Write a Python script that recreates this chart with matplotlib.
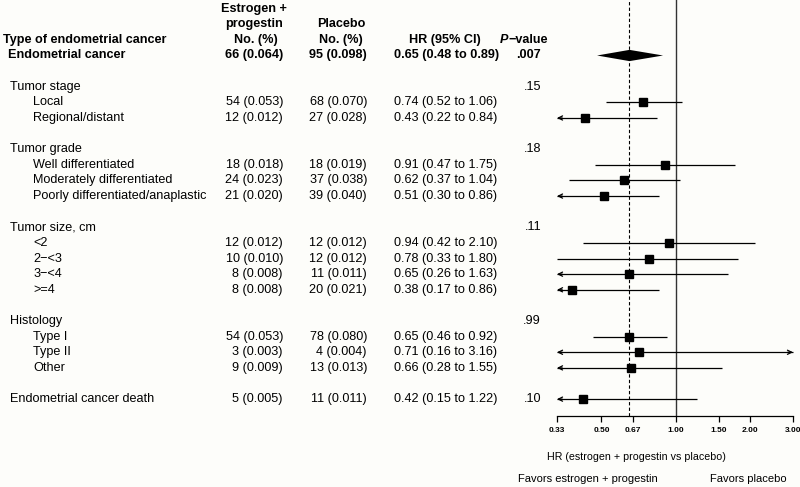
import matplotlib
matplotlib.use("Agg")
import matplotlib.pyplot as plt
import matplotlib.transforms as mtransforms
from matplotlib.ticker import NullLocator

plt.rcParams['font.family'] = ['Liberation Sans', 'DejaVu Sans']

# ---------------- data ----------------
row_labels = ["Endometrial cancer",
              "Tumor stage", "Local", "Regional/distant",
              "Tumor grade", "Well differentiated", "Moderately differentiated",
              "Poorly differentiated/anaplastic",
              "Tumor size, cm", "<2", "2\u2212<3", "3\u2212<4", ">=4",
              "Histology", "Type I", "Type II", "Other",
              "Endometrial cancer death"]
row_pos = [1, 3, 4, 5, 7, 8, 9, 10, 12, 13, 14, 15, 16, 18, 19, 20, 21, 23]
row_kind = ["total", "group", "sub", "sub", "group", "sub", "sub", "sub",
            "group", "sub", "sub", "sub", "sub", "group", "sub", "sub", "sub", "single"]

ep_n =   [66, None, 54, 12, None, 18, 24, 21, None, 12, 10, 8, 8, None, 54, 3, 9, 5]
ep_pct = [0.064, None, 0.053, 0.012, None, 0.018, 0.023, 0.020, None, 0.012, 0.010,
          0.008, 0.008, None, 0.053, 0.003, 0.009, 0.005]
pl_n =   [95, None, 68, 27, None, 18, 37, 39, None, 12, 12, 11, 20, None, 78, 4, 13, 11]
pl_pct = [0.098, None, 0.070, 0.028, None, 0.019, 0.038, 0.040, None, 0.012, 0.012,
          0.011, 0.021, None, 0.080, 0.004, 0.013, 0.011]
hr =     [0.65, None, 0.74, 0.43, None, 0.91, 0.62, 0.51, None, 0.94, 0.78, 0.65, 0.38,
          None, 0.65, 0.71, 0.66, 0.42]
hr_lo =  [0.48, None, 0.52, 0.22, None, 0.47, 0.37, 0.30, None, 0.42, 0.33, 0.26, 0.17,
          None, 0.46, 0.16, 0.28, 0.15]
hr_hi =  [0.89, None, 1.06, 0.84, None, 1.75, 1.04, 0.86, None, 2.10, 1.80, 1.63, 0.86,
          None, 0.92, 3.16, 1.55, 1.22]
p_vals = [".007", ".15", None, None, ".18", None, None, None, ".11", None, None, None,
          None, ".99", None, None, None, ".10"]

x_ticks = [0.33, 0.50, 0.67, 1.00, 1.50, 2.00, 3.00]
x_tick_labels = ["0.33", "0.50", "0.67", "1.00", "1.50", "2.00", "3.00"]
overall_hr = 0.65

# ---------------- layout ----------------
W, H = 800, 487
fig = plt.figure(figsize=(W / 100, H / 100), dpi=100, facecolor="#fdfdfa")
ax = fig.add_axes([557 / W, (H - 416) / H, 236 / W, 416 / H])
ax.set_facecolor("none")
ax.set_xscale("log")
xmin, xmax = x_ticks[0], x_ticks[-1]
ax.set_xlim(xmin, xmax)
ax.set_ylim(24.08, -2.553)

for s in ["left", "right", "top"]:
    ax.spines[s].set_visible(False)
ax.spines["bottom"].set_bounds(xmin, xmax)
ax.spines["bottom"].set_linewidth(0.9)
ax.set_yticks([])
ax.set_xticks(x_ticks)
ax.set_xticklabels(x_tick_labels, fontsize=6, fontweight="bold")
ax.xaxis.set_minor_locator(NullLocator())
ax.tick_params(axis="x", length=4, width=0.9, pad=4, colors="black")

ax.axvline(1.0, color="#333333", lw=1.0, zorder=1)
ax.axvline(overall_hr, color="black", lw=0.8, ls=(0, (3, 2)), zorder=1)

FS = 9.1
trans = mtransforms.blended_transform_factory(fig.transFigure, ax.transData)


def T(px, y, s, **kw):
    ax.text(px / W, y, s, transform=trans, clip_on=False, fontsize=kw.pop("fs", FS),
            va="center", **kw)


# headers
T(3, 0, "Type of endometrial cancer", fontweight="bold")
T(254, -1.95, "Estrogen +", ha="center", fontweight="bold")
T(254, -1, "progestin", ha="center", fontweight="bold")
T(256, 0, "No. (%)", ha="center", fontweight="bold")
T(341, -1, "Placebo", ha="center", fontweight="bold")
T(341, 0, "No. (%)", ha="center", fontweight="bold")
T(445, 0, "HR (95% CI)", ha="center", fontweight="bold")
T(508.5, 0, "P", ha="right", fontweight="bold", fontstyle="italic")
T(508.5, 0, "\u2212value", ha="left", fontweight="bold")

indent = {"total": 8, "group": 10, "sub": 33, "single": 10}
arrow_kw = dict(arrowstyle="->, head_length=0.3, head_width=0.15", lw=0.9,
                color="black", shrinkA=0, shrinkB=0)

for i, lab in enumerate(row_labels):
    y = row_pos[i]
    kind = row_kind[i]
    bold = "bold" if kind == "total" else "normal"
    T(indent[kind], y, lab, fontweight=bold)
    if ep_n[i] is not None:
        T(283, y, f"{ep_n[i]} ({ep_pct[i]:.3f})", ha="right", fontweight=bold)
        T(367, y, f"{pl_n[i]} ({pl_pct[i]:.3f})", ha="right", fontweight=bold)
        T(394, y, f"{hr[i]:.2f} ({hr_lo[i]:.2f} to {hr_hi[i]:.2f})", ha="left",
          fontweight=bold)
    if p_vals[i] is not None:
        T(541, y, p_vals[i], ha="right", fontweight=bold)

    if hr[i] is None:
        continue
    if kind == "total":
        d = 0.36
        ax.fill([hr_lo[i], hr[i], hr_hi[i], hr[i]], [y, y - d, y, y + d],
                color="black", lw=0, zorder=3)
        continue
    lo_c = max(hr_lo[i], xmin)
    hi_c = min(hr_hi[i], xmax)
    ax.plot([lo_c, hi_c], [y, y], color="black", lw=0.9, zorder=2,
            solid_capstyle="butt", clip_on=False)
    ax.plot([hr[i]], [y], marker="s", ms=6, color="black", zorder=4)
    if hr_lo[i] < xmin:
        ax.annotate("", xy=(xmin, y), xytext=(xmin * 1.05, y), arrowprops=arrow_kw,
                    annotation_clip=False)
    if hr_hi[i] > xmax:
        ax.annotate("", xy=(xmax, y), xytext=(xmax / 1.05, y), arrowprops=arrow_kw,
                    annotation_clip=False)

fig.text(636 / W, 1 - 457 / H, "HR (estrogen + progestin vs placebo)", ha="center",
         va="center", fontsize=7.7)
fig.text(588 / W, 1 - 479 / H, "Favors estrogen + progestin", ha="center",
         va="center", fontsize=8)
fig.text(748 / W, 1 - 479 / H, "Favors placebo", ha="center", va="center", fontsize=8)

fig.savefig("out.png", dpi=100, facecolor=fig.get_facecolor())
